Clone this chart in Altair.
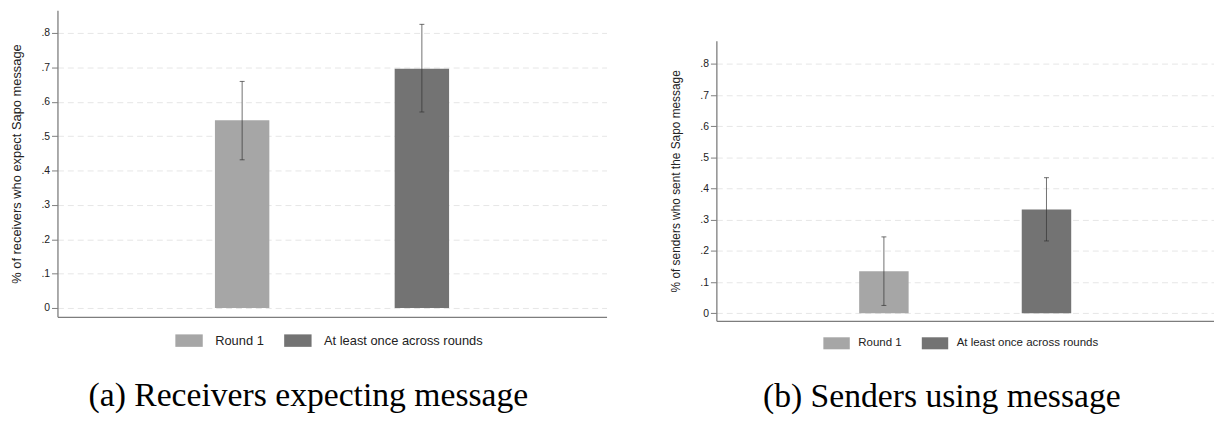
import altair as alt
import pandas as pd

# ---- data ----
categories = ["Round 1", "At least once across rounds"]
positions = [1, 2]

recv_mean = [0.546, 0.696]
recv_lo = [0.431, 0.570]
recv_hi = [0.659, 0.825]

send_mean = [0.135, 0.333]
send_lo = [0.025, 0.232]
send_hi = [0.245, 0.435]

y_ticks = [0, 0.1, 0.2, 0.3, 0.4, 0.5, 0.6, 0.7, 0.8]
bar_colors = ["#a6a6a6", "#737373"]

SANS = "Liberation Sans"
SERIF = "Liberation Serif"
AXIS_GREY = "#7d7d7d"
RECT_PATH = "M-1,-0.455H1V0.455H-1Z"


def make_df(mean, lo, hi):
    return pd.DataFrame({"cat": categories, "pos": positions,
                         "mean": mean, "lo": lo, "hi": hi})


def panel(df, ytitle, width, height, ydom, bar_w, title_size, title_pad,
          leg_x, leg_y, leg_size, leg_font, leg_offset, leg_colpad):
    xaxis = alt.Axis(labels=False, ticks=False, grid=False, title=None,
                     domainColor=AXIS_GREY, domainWidth=1.3)
    xscale = alt.Scale(domain=[0, 3])
    yaxis = alt.Axis(values=y_ticks,
                     labelExpr="datum.value == 0 ? '0' : replace(format(datum.value, '.1f'), '0.', '.')",
                     title=ytitle, titleFont=SANS, titleFontSize=title_size,
                     titleFontWeight="normal", titleColor="#222",
                     titlePadding=title_pad, labelOverlap=False,
                     labelFont=SANS, labelFontSize=10.5, labelColor="#222",
                     labelPadding=2, tickSize=6, tickColor=AXIS_GREY,
                     domainColor=AXIS_GREY, domainWidth=1.3,
                     grid=True, gridColor="#e6e6e6", gridDash=[6, 4], gridWidth=1)
    yscale = alt.Scale(domain=ydom, nice=False, zero=False)

    def X():
        return alt.X("pos:Q", scale=xscale, axis=xaxis)

    def Y(field):
        return alt.Y(field, type="quantitative", scale=yscale, axis=yaxis)

    bars = alt.Chart(df).mark_bar(width=bar_w).encode(
        x=X(),
        y=Y("mean"),
        y2=alt.datum(0),
        color=alt.Color("cat:N",
                        scale=alt.Scale(domain=categories, range=bar_colors),
                        legend=alt.Legend(orient="none", legendX=leg_x, legendY=leg_y,
                                          direction="horizontal", title=None,
                                          symbolType=RECT_PATH, symbolSize=leg_size,
                                          symbolStrokeWidth=0, symbolOpacity=1,
                                          labelFont=SANS, labelFontSize=leg_font,
                                          labelColor="#222", labelOffset=leg_offset,
                                          labelLimit=400,
                                          columnPadding=leg_colpad, padding=0)),
    )
    rule = alt.Chart(df).mark_rule(color="#333333", opacity=0.7, strokeWidth=1).encode(
        x=X(), y=Y("lo"), y2="hi:Q")
    tick_lo = alt.Chart(df).mark_tick(color="#333333", opacity=0.7, orient="horizontal",
                                      size=5, thickness=1).encode(x=X(), y=Y("lo"))
    tick_hi = alt.Chart(df).mark_tick(color="#333333", opacity=0.7, orient="horizontal",
                                      size=5, thickness=1).encode(x=X(), y=Y("hi"))
    return alt.layer(bars, rule, tick_lo, tick_hi).properties(width=width, height=height)


left = panel(make_df(recv_mean, recv_lo, recv_hi),
             "% of receivers who expect Sapo message",
             555, 310, [-0.0259, 0.8662], 55, 13, 18,
             119, 320, 767, 13, 12.4, 20).properties(
    title=alt.TitleParams("(a) Receivers expecting message", orient="bottom",
                          anchor="middle", frame="bounds", font=SERIF, fontSize=34,
                          fontWeight="normal", color="black", offset=32))

right_inner = panel(make_df(send_mean, send_lo, send_hi),
                    "% of senders who sent the Sapo message",
                    503, 283, [-0.0244, 0.8742], 50, 12, 17.5,
                    108, 323, 713, 11.6, 8.4, 19.5)

# empty view used only to push the right panel down
spacer = alt.Chart(pd.DataFrame({"v": []})).mark_point(opacity=0).encode(
    x=alt.value(0), y=alt.value(0)).properties(width=503, height=31)

right = alt.vconcat(spacer, right_inner, spacing=0).properties(
    title=alt.TitleParams("(b) Senders using message", orient="bottom",
                          anchor="middle", frame="bounds", font=SERIF, fontSize=34,
                          fontWeight="normal", color="black", offset=31))

chart = alt.hconcat(left, right, spacing=63).resolve_scale(
    color="independent").resolve_legend(color="independent").properties(
    padding={"left": 2, "top": 0, "right": 0, "bottom": 0}
).configure(background="white").configure_view(strokeWidth=0)

chart.save("out.html", embed_options={"renderer": "svg", "actions": False})
